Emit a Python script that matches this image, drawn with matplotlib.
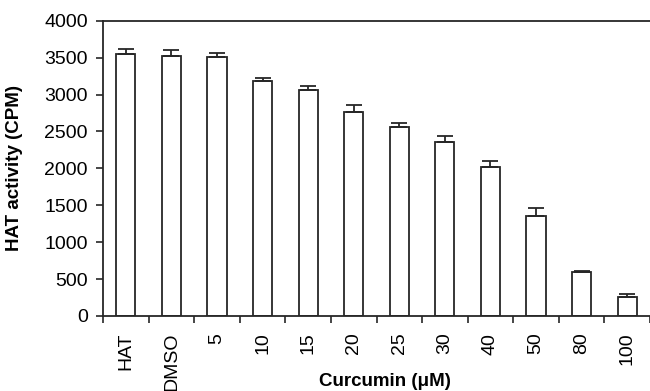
import matplotlib
matplotlib.use("Agg")
import matplotlib.pyplot as plt
import numpy as np

categories = ["HAT", "DMSO", "5", "10", "15", "20", "25", "30", "40", "50", "80", "100"]
values = [3545, 3522, 3504, 3183, 3061, 2759, 2560, 2361, 2022, 1359, 600, 257]
errors = [75, 77, 60, 40, 60, 100, 60, 75, 75, 100, 15, 40]
yticks = [0, 500, 1000, 1500, 2000, 2500, 3000, 3500, 4000]

plt.rcParams['font.family'] = ['Liberation Sans', 'DejaVu Sans']
ink = "#262626"

fig = plt.figure(figsize=(6.5, 3.91), dpi=100)
ax = fig.add_axes([103/650, 1 - 316/391, 547/650, (316 - 20.7)/391])

x = np.arange(len(categories)) + 0.5
ax.bar(x, values, width=0.42, color="white", edgecolor=ink, linewidth=1.3, zorder=2)
ax.errorbar(x, values, yerr=[np.zeros(len(errors)), errors], fmt="none",
            ecolor=ink, elinewidth=1.3, capsize=5.5, capthick=1.3, zorder=3)

ax.set_xlim(0, 12)
ax.set_ylim(0, 4000)
ax.set_yticks(yticks)
ax.set_yticklabels([str(v) for v in yticks], fontsize=14)

ax.set_xticks(np.arange(0, 13))
ax.set_xticklabels([])
ax.set_xticks(x, minor=True)
ax.set_xticklabels(categories, minor=True, rotation=90, fontsize=14, va="top", ha="center")
ax.tick_params(axis="x", which="minor", length=0, pad=12)
ax.tick_params(axis="x", which="major", length=5, width=1.2, color=ink, direction="out")
ax.tick_params(axis="y", length=5, width=1.2, color=ink, direction="out", pad=6)

for s in ["left", "bottom", "top"]:
    ax.spines[s].set_linewidth(1.3)
    ax.spines[s].set_color(ink)
ax.spines["right"].set_visible(False)

ax.set_ylabel("HAT activity (CPM)", fontsize=13.5, fontweight="bold")
ax.yaxis.set_label_coords(-(103 - 23) / 547, 0.5)
fig.text(385/650, 1 - 381/391, "Curcumin (\u03bcM)", fontsize=13.5, fontweight="bold",
         ha="center", va="center")

fig.savefig("out.png", dpi=100)
